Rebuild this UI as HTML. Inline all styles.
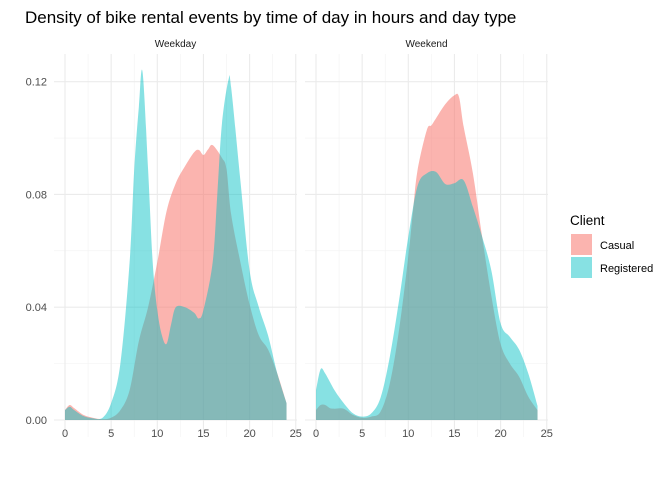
<!DOCTYPE html>
<html><head><meta charset="utf-8"><style>
body{margin:0;background:#fff;font-family:"Liberation Sans",sans-serif}
svg text{font-family:"Liberation Sans",sans-serif}
</style></head><body>
<svg id="c" width="672" height="480">
<text x="25" y="23" font-size="17" fill="#000">Density of bike rental events by time of day in hours and day type</text>
<g id="panels"></g>
<g>
<text x="570" y="225" font-size="13.5" fill="#000">Client</text>
<rect x="571" y="234" width="21" height="21" fill="#F8766D" fill-opacity="0.55"/>
<text x="600" y="249" font-size="11" fill="#000">Casual</text>
<rect x="571" y="257" width="21" height="21" fill="#00BFC4" fill-opacity="0.47"/>
<text x="600" y="272" font-size="11" fill="#000">Registered</text>
</g>
</svg>
<script>
const panelNames=["Weekday","Weekend"];
const yTicks=[0,0.04,0.08,0.12];
const yTickLabels=["0.00","0.04","0.08","0.12"];
const xTicks=[0,5,10,15,20,25];
const wdCasualX=[0,0.5,1,2,3,4,5,6,7,8,9,10,11,12,13,14,14.5,15,15.5,16,17,17.5,18,19,20,21,22,23,24];
const wdCasualY=[.0035,.0053,.0042,.0018,.0008,.0003,.0008,.0035,.0106,.028,.040,.056,.074,.084,.090,.095,.0958,.094,.096,.0975,.093,.089,.073,.056,.041,.030,.025,.0165,.006];
const wdRegX=[0,0.5,1,2,3,4,5,6,7,7.5,8,8.4,9,9.5,10,10.5,11,11.5,12,13,14,14.5,15,16,16.5,17,17.7,18,19,20,21,22,23,24];
const wdRegY=[.0035,.0047,.0035,.0014,.0006,.0006,.006,.020,.056,.089,.111,.1235,.089,.056,.039,.030,.027,.034,.040,.040,.038,.036,.039,.056,.080,.105,.1205,.118,.085,.053,.040,.030,.0165,.006];
const weCasualX=[0,0.5,1,1.5,2,3,4,5,6,7,8,9,10,10.5,11,12,12.5,13,14,15,15.5,16,17,18,19,20,21,22,23,24];
const weCasualY=[.0035,.0053,.0053,.0042,.004,.004,.0018,.0008,.0012,.003,.013,.032,.058,.074,.0886,.1028,.1045,.107,.112,.1152,.1145,.104,.0875,.065,.044,.027,.020,.0154,.0083,.0035];
const weRegX=[0,0.5,1,2,3,4,5,6,7,8,9,10,11,12,13,14,15,16,17,18,19,20,21,22,23,24];
const weRegY=[.0106,.018,.0165,.0106,.006,.0024,.0012,.0024,.008,.0225,.0425,.065,.083,.0875,.088,.0837,.084,.085,.0756,.065,.053,.0343,.0295,.025,.0165,.005];
const series=[[[wdCasualX,wdCasualY],[wdRegX,wdRegY]],[[weCasualX,weCasualY],[weRegX,weRegY]]];
const NS="http://www.w3.org/2000/svg";
const g=document.getElementById('panels');
const y0=420,y1=81.7;
const ys=v=>y0+(y1-y0)*v/0.12;
function mk(t,a,p){const e=document.createElementNS(NS,t);for(const k in a)e.setAttribute(k,a[k]);(p||g).appendChild(e);return e;}
function path(xs,vs,xf){
  const P=xs.map((x,i)=>[xf(x),ys(vs[i])]);
  let d=`M${P[0][0]},${y0}L${P[0][0]},${P[0][1]}`;
  for(let i=0;i<P.length-1;i++){
    const p0=P[Math.max(0,i-1)],p1=P[i],p2=P[i+1],p3=P[Math.min(P.length-1,i+2)];
    const c1=[p1[0]+(p2[0]-p0[0])/6,p1[1]+(p2[1]-p0[1])/6];
    const c2=[p2[0]-(p3[0]-p1[0])/6,p2[1]-(p3[1]-p1[1])/6];
    d+=`C${c1[0]},${Math.min(y0,c1[1])} ${c2[0]},${Math.min(y0,c2[1])} ${p2[0]},${p2[1]}`;
  }
  d+=`L${P[P.length-1][0]},${y0}Z`;return d;
}
const origins=[65,316],scale=9.23,lefts=[54,305],rights=[297,548];
panelNames.forEach((name,pi)=>{
  const xf=x=>origins[pi]+x*scale;
  const pg=mk('g',{});
  
  
  for(let v=0.02;v<0.13;v+=0.04){const l=mk('line',{x1:lefts[pi],x2:rights[pi],y1:ys(v),y2:ys(v),stroke:'#f2f2f2','stroke-width':0.6},pg);}
  for(let v=2.5;v<25;v+=5){mk('line',{x1:xf(v),x2:xf(v),y1:54,y2:437,stroke:'#f2f2f2','stroke-width':0.6},pg);}
  yTicks.forEach(v=>{mk('line',{x1:lefts[pi],x2:rights[pi],y1:ys(v),y2:ys(v),stroke:'#ebebeb','stroke-width':1.1},pg);});
  xTicks.forEach(v=>{mk('line',{x1:xf(v),x2:xf(v),y1:54,y2:437,stroke:'#ebebeb','stroke-width':1.1},pg);
    const t=mk('text',{x:xf(v),y:437,'font-size':11,fill:'#4d4d4d','text-anchor':'middle'},pg);t.textContent=v;
    
    });
  const st=mk('text',{x:(lefts[pi]+rights[pi])/2,y:47,'font-size':10,fill:'#1a1a1a','text-anchor':'middle'},pg);st.textContent=name;
  
  
  const [c,r]=series[pi];
  const a1=mk('path',{d:path(c[0],c[1],xf),fill:'#F8766D','fill-opacity':0.55},pg);
  
  
  const a2=mk('path',{d:path(r[0],r[1],xf),fill:'#00BFC4','fill-opacity':0.47},pg);
  
  
});
yTicks.forEach((v,i)=>{const t=mk('text',{x:47,y:ys(v)+4,'font-size':11,fill:'#4d4d4d','text-anchor':'end'});t.textContent=yTickLabels[i];
  
  });
</script>
</body></html>
